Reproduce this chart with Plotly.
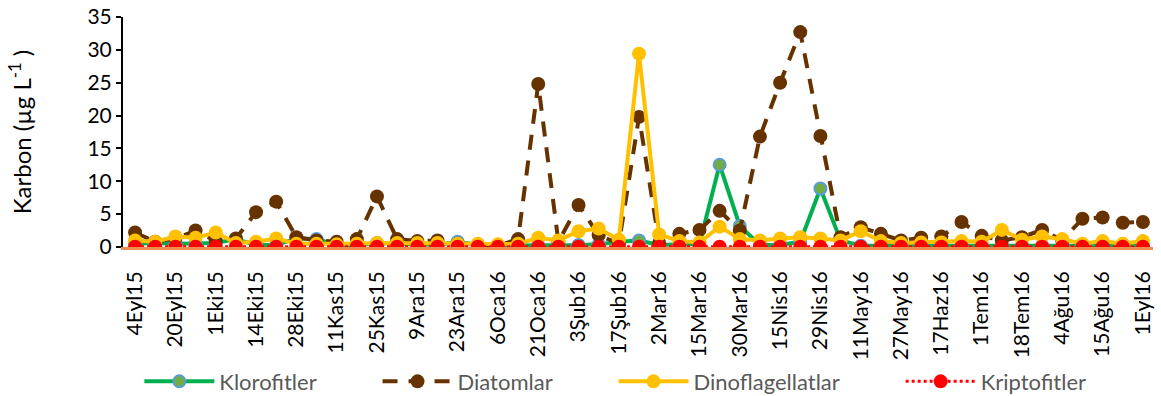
import plotly.graph_objects as go

tick_labels = ["4Eyl15", "20Eyl15", "1Eki15", "14Eki15", "28Eki15", "11Kas15", "25Kas15",
               "9Ara15", "23Ara15", "6Oca16", "21Oca16", "3Şub16", "17Şub16", "2Mar16",
               "15Mar16", "30Mar16", "15Nis16", "29Nis16", "11May16", "27May16", "17Haz16",
               "1Tem16", "18Tem16", "4Ağu16", "15Ağu16", "1Eyl16"]

klorofitler = [0.5, 0.6, 0.5, 0.5, 0.6, 1.2, 0.3, 0.3, 1.3, 1.2,
               0.3, 0.3, 0.6, 0.5, 0.4, 0.3, 0.8, 0.3, 0.2, 0.2,
               0.3, 0.2, 0.3, 0.4, 0.8, 1.0, 0.3, 0.4, 0.5, 12.5,
               3.2, 0.3, 0.3, 0.8, 8.9, 1.0, 0.2, 0.2, 0.2, 0.2,
               0.2, 0.2, 0.2, 0.2, 0.2, 0.2, 0.2, 0.2, 0.2, 0.2, 0.2]

diatomlar = [2.2, 0.8, 1.3, 2.5, 0.9, 1.3, 5.3, 6.9, 1.5, 1.0,
             0.8, 1.2, 7.7, 1.2, 0.9, 1.0, 0.5, 0.3, 0.2, 1.2,
             24.8, 0.8, 6.4, 1.8, 0.5, 19.8, 0.6, 2.0, 2.6, 5.5,
             2.5, 16.8, 25.0, 32.7, 16.9, 1.5, 3.0, 2.0, 1.0, 1.4,
             1.6, 3.8, 1.7, 1.0, 1.5, 2.6, 1.0, 4.3, 4.5, 3.7, 3.8]

dinoflagellatlar = [1.0, 0.8, 1.6, 1.4, 2.2, 0.6, 0.8, 1.3, 0.5, 0.5,
                    0.4, 0.5, 0.6, 0.6, 0.6, 0.6, 0.5, 0.5, 0.4, 0.5,
                    1.4, 1.0, 2.4, 2.8, 1.1, 29.4, 1.9, 0.9, 0.7, 3.1,
                    1.2, 1.0, 1.3, 1.5, 1.3, 1.0, 2.4, 0.9, 0.6, 0.7,
                    0.7, 0.9, 0.8, 2.6, 1.1, 1.6, 1.2, 0.5, 0.9, 0.5, 0.9]

kriptofitler = [0.05] * 51

series_names = ["Klorofitler", "Diatomlar", "Dinoflagellatlar", "Kriptofitler"]

x = list(range(len(diatomlar)))
tick_vals = list(range(0, len(diatomlar), 2))
pad = "\u00a0" * 10

fig = go.Figure()
fig.add_trace(go.Scatter(x=x, y=klorofitler, name=series_names[0] + pad, mode="lines+markers",
                         line=dict(color="#00B050", width=4),
                         marker=dict(size=12, color="#70AD47", line=dict(color="#5B9BD5", width=2))))
fig.add_trace(go.Scatter(x=x, y=diatomlar, name=series_names[1] + pad, mode="lines+markers",
                         line=dict(color="#663300", width=4, dash="15px,11px"),
                         marker=dict(size=14, color="#663300")))
fig.add_trace(go.Scatter(x=x, y=dinoflagellatlar, name=series_names[2] + pad, mode="lines+markers",
                         line=dict(color="#FFC000", width=4),
                         marker=dict(size=14, color="#FFC000")))
fig.add_trace(go.Scatter(x=x, y=kriptofitler, name=series_names[3], mode="lines+markers",
                         line=dict(color="#FF0000", width=3, dash="dot"),
                         marker=dict(size=14, color="#FF0000")))

fig.update_layout(
    width=1161, height=396,
    margin=dict(l=123, r=8, t=17, b=149, autoexpand=False),
    paper_bgcolor="white", plot_bgcolor="white",
    font=dict(family="Lato", size=21, color="black"),
    showlegend=True,
    legend=dict(orientation="h", x=0.478, xanchor="center", y=-0.585, yanchor="middle",
                font=dict(size=22, color="#595959"), itemwidth=70),
    xaxis=dict(range=[-0.6, 50.5], tickmode="array", tickvals=tick_vals, ticktext=tick_labels,
               tickangle=-90, showgrid=False, zeroline=False, showline=True, automargin=False,
               linecolor="#F08C50", linewidth=3, ticks="", tickfont=dict(size=21),
               ticklabelstandoff=13, ticklabeloverflow="allow"),
    yaxis=dict(range=[0, 35], dtick=5, showgrid=False, zeroline=False, showline=True,
               automargin=False, ticklabeloverflow="allow",
               linecolor="black", linewidth=2, ticks="outside", ticklen=5, tickwidth=2,
               tickcolor="black", tickfont=dict(size=21),
               title=dict(text="Karbon (µg L<sup>-1</sup> )", font=dict(size=24), standoff=49)),
)

fig.write_html("out.html", config={"displayModeBar": False},
               post_script="document.body.style.margin='0';")
